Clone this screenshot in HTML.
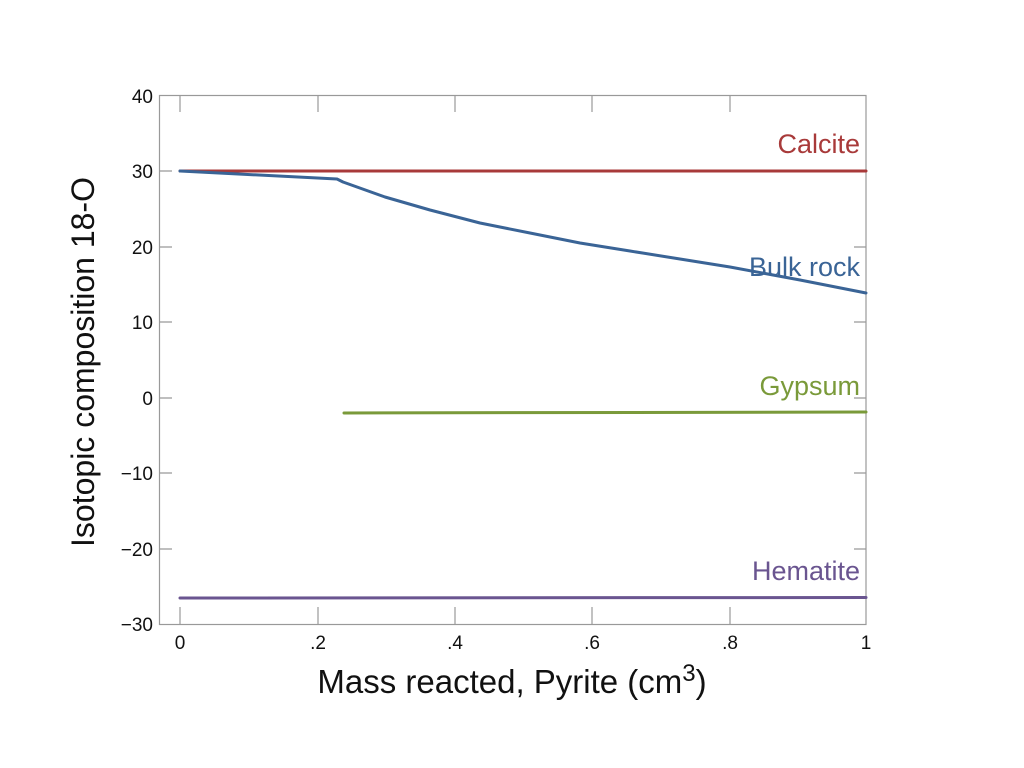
<!DOCTYPE html>
<html><head><meta charset="utf-8"><style>
html,body{margin:0;padding:0;background:#fff;}
svg{display:block;font-family:"Liberation Sans",sans-serif;}
</style></head><body>
<svg width="1024" height="768" viewBox="0 0 1024 768">
<g stroke="#999" stroke-width="1.2" fill="none">
<rect x="159.5" y="95.5" width="706.5" height="529"/>
<path d="M180 96V112M318 96V112M455 96V112M592 96V112M730 96V112
M180 624V607M318 624V607M455 624V607M592 624V607M730 624V607
M160 171H172M160 247H172M160 322H172M160 398H172M160 473H172M160 549H172
M866 171H854M866 247H854M866 322H854M866 398H854M866 473H854M866 549H854"/>
</g>
<g font-size="19" fill="#111" text-anchor="end">
<text x="153" y="103">40</text><text x="153" y="178">30</text><text x="153" y="254">20</text>
<text x="153" y="329">10</text><text x="153" y="405">0</text><text x="153" y="480">−10</text>
<text x="153" y="556">−20</text><text x="153" y="631">−30</text>
</g>
<g font-size="19" fill="#111" text-anchor="middle">
<text x="180" y="649">0</text><text x="318" y="649">.2</text><text x="455" y="649">.4</text>
<text x="592" y="649">.6</text><text x="730" y="649">.8</text><text x="866" y="649">1</text>
</g>
<text x="512" y="693" font-size="33" text-anchor="middle" fill="#111">Mass reacted, Pyrite (cm<tspan font-size="24" dy="-12">3</tspan><tspan dy="12">)</tspan></text>
<text transform="translate(94,362) rotate(-90)" font-size="32" text-anchor="middle" fill="#111">Isotopic composition 18-O</text>
<g fill="none" stroke-width="3" stroke-linecap="round" stroke-linejoin="round">
<path d="M180 171H866" stroke="#a83a3a"/>
<path d="M180 171L337 179L343 181L380 195L430 211L480 225L530 238L580 250L630 261L680 272L730 282L780 291L866 306" stroke="none"/>
<path d="M180 171L337 179L343 181L380 194L430 210L480 222L530 235L580 247L630 258L680 268L730 268M730 268" stroke="none"/>
<path d="M180 171L337 179L343 182L385 197L430 210L480 223L530 233L580 243L630 251L680 259L730 267L800 280L866 293" stroke="#3a6496"/>
<path d="M344 413L866 412" stroke="#7a9a3a"/>
<path d="M180 598L866 597.5" stroke="#6a5590"/>
</g>
<g font-size="27" text-anchor="end">
<text x="860" y="153" fill="#a83a3a">Calcite</text>
<text x="860" y="276" fill="#3a6496">Bulk rock</text>
<text x="860" y="395" fill="#7a9a3a">Gypsum</text>
<text x="860" y="580" fill="#6a5590">Hematite</text>
</g>
</svg>
</body></html>
